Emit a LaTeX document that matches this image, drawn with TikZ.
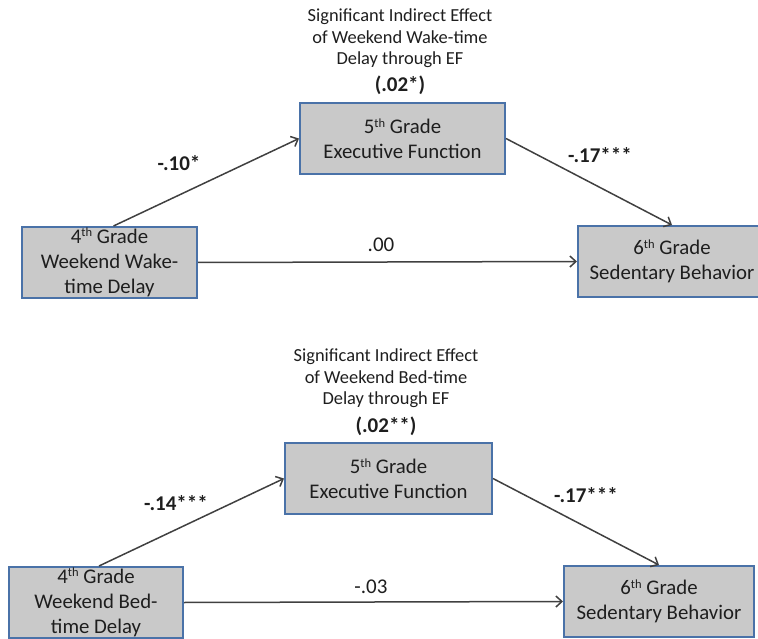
\documentclass[tikz,border=0pt]{standalone}
\usepackage{fontspec}
\setmainfont{Carlito}
\usetikzlibrary{arrows.meta}
\definecolor{boxfill}{RGB}{201,201,201}
\definecolor{boxline}{RGB}{74,114,168}
\definecolor{conn}{RGB}{64,64,64}
\definecolor{txt}{RGB}{30,30,30}
\newcommand{\ordsup}[1]{\raisebox{6.5pt}{\fontsize{12.5}{12.5}\selectfont #1}}
\tikzset{
  box/.style={draw=boxline, line width=2pt, fill=boxfill, inner sep=0pt,
    minimum height=71pt, align=center, text=txt,
    font=\fontsize{20.8}{25}\selectfont},
  title/.style={align=center, text=txt, font=\fontsize{18.4}{21.5}\selectfont},
  coef/.style={text=txt, font=\fontsize{21}{25}\selectfont\bfseries},
  plain/.style={text=txt, font=\fontsize{21}{25}\selectfont},
  conn/.style={draw=conn, line width=1.5pt, -{Straight Barb[length=6pt,width=11pt,line width=1.5pt]}}
}
\begin{document}
\begin{tikzpicture}[x=1pt,y=-1pt]
\useasboundingbox (0,0) rectangle (758,639);
\clip (0,0) rectangle (758,639);
% ---- top panel ----
\node[title] (t1) at (400,38.5) {Significant Indirect Effect\\of Weekend Wake-time\\Delay through EF};
\node[coef] (i1) at (400,85) {(.02*)};
\node[box, minimum width=205pt] (ef1) at (402.5,138.5) {5\ordsup{th} Grade\\Executive Function};
\node[box, minimum width=175pt] (l1) at (109.5,262.5) {4\ordsup{th} Grade\\Weekend Wake-\\time Delay};
\node[box, minimum width=188pt] (r1) at (672,261.5) {6\ordsup{th} Grade\\Sedentary Behavior};
\draw[conn] ([xshift=4pt]l1.north) -- (ef1.west);
\draw[conn] (ef1.east) -- (r1.north);
\draw[conn] (l1.east) -- (r1.west);
\node[coef] (a1) at (179,163) {-.10*};
\node[coef] (b1) at (600,155) {-.17***};
\node[plain] (c1) at (381,245) {.00};
% ---- bottom panel ----
\node[title] (t2) at (386,378.5) {Significant Indirect Effect\\of Weekend Bed-time\\Delay through EF};
\node[coef] (i2) at (386,426) {(.02**)};
\node[box, minimum width=207pt] (ef2) at (388.5,478.5) {5\ordsup{th} Grade\\Executive Function};
\node[box, minimum width=174pt] (l2) at (96,602.5) {4\ordsup{th} Grade\\Weekend Bed-\\time Delay};
\node[box, minimum width=190pt] (r2) at (659,601.5) {6\ordsup{th} Grade\\Sedentary Behavior};
\draw[conn] ([xshift=3pt]l2.north) -- (ef2.west);
\draw[conn] (ef2.east) -- (r2.north);
\draw[conn] (l2.east) -- (r2.west);
\node[coef] (a2) at (176,503) {-.14***};
\node[coef] (b2) at (586,495) {-.17***};
\node[plain] (c2) at (371,587) {-.03};
\end{tikzpicture}
\end{document}
